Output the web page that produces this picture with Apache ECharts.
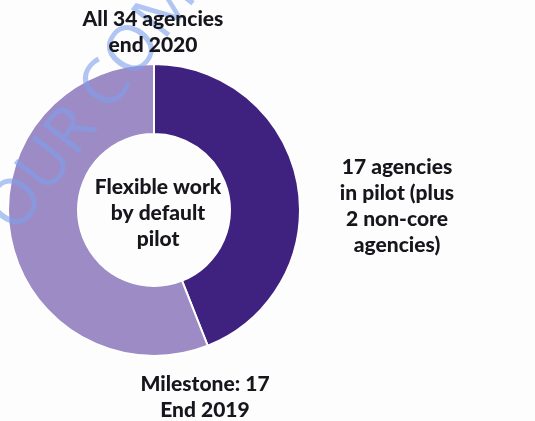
<!DOCTYPE html>
<html>
<head>
<meta charset="utf-8">
<script src="https://cdn.jsdelivr.net/npm/echarts@6/dist/echarts.min.js"></script>
<style>
html,body{margin:0;padding:0;background:#fdfdfd;}
#main{width:535px;height:421px;}
</style>
</head>
<body>
<div id="main"></div>
<script>
// Data
const sliceNames = ['17 agencies in pilot', 'Remaining agencies'];
const sliceValues = [44, 56];
const sliceColors = ['#3f2280', '#9d8bc6'];
const centerLabel = ['Flexible work', 'by default', 'pilot'];
const topLabel = ['All 34 agencies', 'end 2020'];
const rightLabel = ['17 agencies', 'in pilot (plus', '2 non-core', 'agencies)'];
const bottomLabel = ['Milestone: 17', 'End 2019'];
const watermark = 'OUR COMM';

const chart = echarts.init(document.getElementById('main'), null, {renderer: 'canvas'});
const font = {fontFamily: 'Lato', fontWeight: 900, fontSize: 21, fill: '#16161c', lineHeight: 26, align: 'center'};
function txt(lines, x, y) {
  return {type: 'text', x: x, y: y, z: 10, style: Object.assign({text: lines.join('\n'), verticalAlign: 'top'}, font)};
}
chart.setOption({
  backgroundColor: '#fdfdfd',
  animation: false,
  series: [{
    type: 'pie',
    z: 1,
    center: [154, 210],
    radius: [76, 146],
    startAngle: 90,
    clockwise: true,
    label: {show: false},
    labelLine: {show: false},
    emphasis: {disabled: true},
    itemStyle: {borderColor: '#ffffff', borderWidth: 2},
    data: sliceNames.map((n, i) => ({name: n, value: sliceValues[i], itemStyle: {color: sliceColors[i]}}))
  }, {
    type: 'custom',
    coordinateSystem: 'none',
    z: 5,
    silent: true,
    data: [0],
    renderItem: function () {
      return {
        type: 'text', x: 2, y: 224, rotation: 52.7 * Math.PI / 180,
        style: {text: watermark, fontFamily: 'Open Sans', fontWeight: 'normal', fontSize: 64, fill: 'rgba(125,160,235,0.6)', align: 'left', verticalAlign: 'middle'}
      };
    }
  }],
  graphic: [
    txt(topLabel, 153, 6),
    txt(centerLabel, 158, 174),
    txt(rightLabel, 397, 154),
    txt(bottomLabel, 205, 371)
  ]
});
</script>
</body>
</html>
